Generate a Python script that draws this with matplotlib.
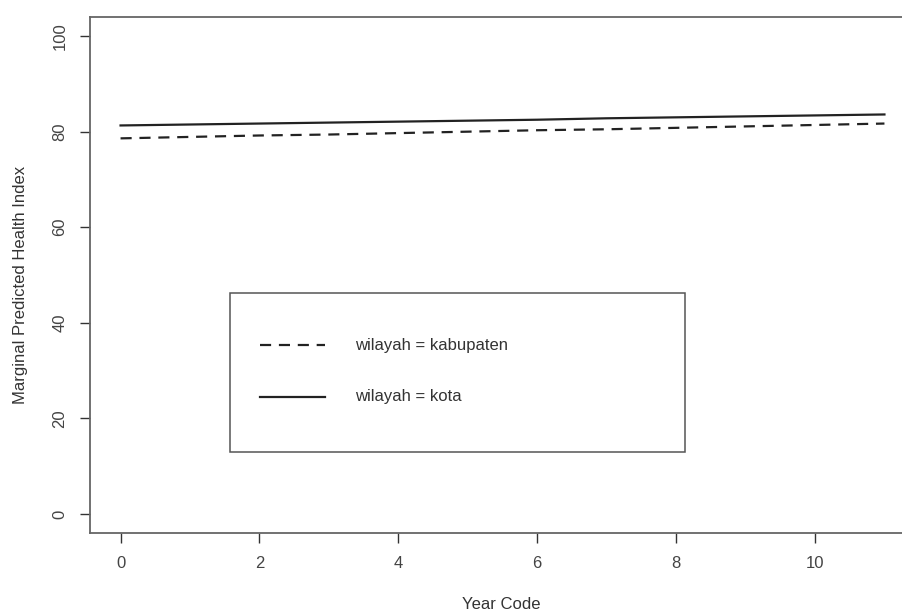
import matplotlib
matplotlib.use("Agg")
import matplotlib.pyplot as plt
from matplotlib.patches import Rectangle

years = list(range(12))
kabupaten = [78.6, 78.9, 79.2, 79.4, 79.7, 80.0, 80.3, 80.5, 80.8, 81.1, 81.4, 81.7]
kota = [81.3, 81.5, 81.7, 81.9, 82.1, 82.3, 82.5, 82.8, 83.0, 83.2, 83.4, 83.6]
labels = ["wilayah = kabupaten", "wilayah = kota"]
xticks = [0, 2, 4, 6, 8, 10]
yticks = [0, 20, 40, 60, 80, 100]

plt.rcParams['font.family'] = ['Liberation Sans', 'DejaVu Sans']
W, H = 903, 612
fig = plt.figure(figsize=(W / 100, H / 100), dpi=100)
L, R, T, B = 90, 915, 17, 533
ax = fig.add_axes([L / W, (H - B) / H, (R - L) / W, (B - T) / H])

line_col = '#222222'
ax.plot(years, kabupaten, color=line_col, lw=1.6, ls=(0, (5, 3.5)))
ax.plot(years, kota, color=line_col, lw=1.6, ls='-')

ax.set_xlim(-0.44, 11.44)
ax.set_ylim(-4, 104)
ax.set_xticks(xticks)
ax.set_yticks(yticks)
ax.set_yticklabels([str(v) for v in yticks], rotation=90, va='center')
for s in ax.spines.values():
    s.set_color('#666666')
    s.set_linewidth(1.3)
ax.tick_params(axis='both', length=7.2, width=1.0, color='#333333',
               labelsize=12, labelcolor='#444444', pad=9)

ax.set_xlabel("Year Code", fontsize=12, color='#333333')
ax.set_ylabel("Marginal Predicted Health Index", fontsize=12, color='#333333')
ax.xaxis.set_label_coords(0.498, -0.1395)
ax.yaxis.set_label_coords(-0.0848, 0.4806)
ax.xaxis.label.set_va('center')
ax.yaxis.label.set_va('center')

# legend box (manual, R style)
tr = ax.transAxes
ax.add_patch(Rectangle((0.1697, 0.1576), 0.7212 - 0.1697, 0.4657 - 0.1576,
                       transform=tr, fill=False, edgecolor='#555555', lw=1.1))
ax.plot([0.206, 0.2848], [0.3643, 0.3643], transform=tr, color=line_col,
        lw=1.6, ls=(0, (5, 3.5)))
ax.plot([0.206, 0.2848], [0.2636, 0.2636], transform=tr, color=line_col,
        lw=1.6, ls='-')
ax.text(0.3212, 0.3643, labels[0], transform=tr, fontsize=12,
        color='#333333', va='center', ha='left')
ax.text(0.3212, 0.2636, labels[1], transform=tr, fontsize=12,
        color='#333333', va='center', ha='left')

fig.savefig("out.png", dpi=100)
